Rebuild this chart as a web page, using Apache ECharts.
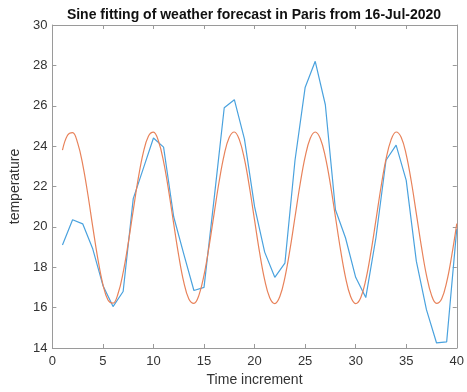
<!DOCTYPE html>
<html>
<head>
<meta charset="utf-8">
<script src="https://cdn.jsdelivr.net/npm/echarts@6/dist/echarts.min.js"></script>
<style>
html,body{margin:0;padding:0;background:#fff;}
#chart{width:467px;height:392px;}
</style>
</head>
<body>
<div id="chart"></div>
<script>
// Observed forecast temperatures (time increment 1..40)
var timeSteps = [1,2,3,4,5,6,7,8,9,10,11,12,13,14,15,16,17,18,19,20,21,22,23,24,25,26,27,28,29,30,31,32,33,34,35,36,37,38,39,40];
var observedTemp = [19.1,20.35,20.15,18.9,17.1,16.05,16.8,21.4,22.9,24.4,23.95,20.5,18.65,16.85,17.0,21.4,25.9,26.3,24.35,21.0,18.75,17.5,18.2,23.3,26.9,28.2,26.05,20.85,19.45,17.5,16.5,19.45,23.3,24.05,22.3,18.3,15.9,14.25,14.3,19.9];

// Sine fit curve, read at half-step positions
var fitSteps = [1,1.5,2,2.5,3,3.5,4,4.5,5,5.5,6,6.5,7,7.5,8,8.5,9,9.5,10,10.5,11,11.5,12,12.5,13,13.5,14,14.5,15,15.5,16,16.5,17,17.5,18,18.5,19,19.5,20,20.5,21,21.5,22,22.5,23,23.5,24,24.5,25,25.5,26,26.5,27,27.5,28,28.5,29,29.5,30,30.5,31,31.5,32,32.5,33,33.5,34,34.5,35,35.5,36,36.5,37,37.5,38,38.5,39,39.5,40];
var fitTemp = [23.80,24.54,24.67,24.16,23.10,21.64,19.99,18.42,17.15,16.38,16.22,16.70,17.74,19.18,20.82,22.41,23.69,24.49,24.69,24.24,23.23,21.80,20.16,18.57,17.26,16.43,16.21,16.62,17.61,19.03,20.66,22.26,23.58,24.44,24.70,24.31,23.35,21.95,20.33,18.72,17.37,16.49,16.20,16.55,17.49,18.87,20.49,22.10,23.47,24.38,24.70,24.38,23.47,22.11,20.49,18.87,17.49,16.55,16.20,16.49,17.37,18.72,20.32,21.95,23.35,24.31,24.70,24.44,23.58,22.26,20.66,19.03,17.61,16.62,16.21,16.43,17.26,18.57,20.16];

var xTicks = {min:0, max:40, interval:5};
var yTicks = {min:14, max:30, interval:2};

var titleText = 'Sine fitting of weather forecast in Paris from 16-Jul-2020';
var xName = 'Time increment';
var yName = 'temperature';

var FONT = '"Liberation Sans", Arial, Helvetica, sans-serif';
var axisColor = '#9a9a9a';
var textColor = '#333333';

function zip(a,b){var r=[];for(var i=0;i<a.length;i++){r.push([a[i],b[i]]);}return r;}

var chart = echarts.init(document.getElementById('chart'), null, {renderer:'canvas'});

function xAx(pos, showLabel){
  return {
    type:'value', position:pos, min:xTicks.min, max:xTicks.max, interval:xTicks.interval,
    name: showLabel ? xName : '', nameLocation:'middle', nameGap:25,
    nameTextStyle:{fontFamily:FONT, fontSize:14, color:textColor},
    axisLine:{show:true, onZero:false, lineStyle:{color:axisColor, width:1}},
    axisTick:{show:true, inside:true, length:4, lineStyle:{color:axisColor}},
    axisLabel:{show:showLabel, margin:7, fontFamily:FONT, fontSize:13, color:textColor},
    splitLine:{show:false}
  };
}
function yAx(pos, showLabel){
  return {
    type:'value', position:pos, min:yTicks.min, max:yTicks.max, interval:yTicks.interval,
    name: showLabel ? yName : '', nameLocation:'middle', nameGap:24,
    nameTextStyle:{fontFamily:FONT, fontSize:14, color:textColor},
    axisLine:{show:true, onZero:false, lineStyle:{color:axisColor, width:1}},
    axisTick:{show:true, inside:true, length:4, lineStyle:{color:axisColor}},
    axisLabel:{show:showLabel, margin:5, fontFamily:FONT, fontSize:13, color:textColor},
    splitLine:{show:false}
  };
}

chart.setOption({
  animation:false,
  backgroundColor:'#ffffff',
  title:{
    text:titleText, left:254, top:8, textAlign:'center', padding:0,
    textStyle:{fontFamily:FONT, fontSize:14, fontWeight:'bold', color:'#111'}
  },
  grid:{left:48, right:6, top:25, bottom:42, containLabel:false},
  xAxis:[xAx('bottom', true), xAx('top', false)],
  yAxis:[yAx('left', true), yAx('right', false)],
  series:[
    {
      type:'line', xAxisIndex:0, yAxisIndex:0, data:zip(timeSteps, observedTemp),
      showSymbol:false, symbol:'none',
      lineStyle:{color:'#4aa2de', width:1.2}, itemStyle:{color:'#4aa2de'}, z:2
    },
    {
      type:'line', xAxisIndex:0, yAxisIndex:0, data:zip(fitSteps, fitTemp),
      showSymbol:false, symbol:'none', smooth:0.4,
      lineStyle:{color:'#e8825a', width:1.2}, itemStyle:{color:'#e8825a'}, z:3
    }
  ]
});
</script>
</body>
</html>
